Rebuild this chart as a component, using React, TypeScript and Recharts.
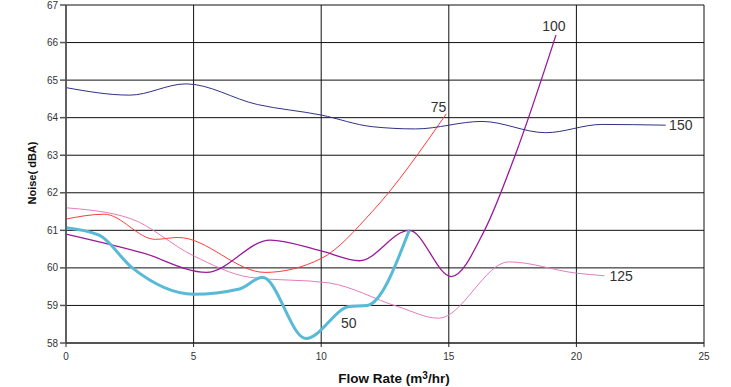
import React from "react";
import {
  LineChart,
  Line,
  XAxis,
  YAxis,
  CartesianGrid,
  ReferenceDot,
} from "recharts";

// flow rate (m3/hr) and noise (dBA)
const x50 = [0, 1.3, 2.6, 5, 6.8, 7.7, 9.4, 11.1, 11.8, 13.45];
const y50 = [61.07, 60.87, 60.0, 59.3, 59.44, 59.75, 58.12, 58.97, 59.0, 61.0];

const x75 = [0, 1.5, 3.5, 4.4, 7.8, 10, 12, 14.9];
const y75 = [61.3, 61.43, 60.76, 60.81, 59.88, 60.25, 61.5, 64.1];

const x100 = [0, 3, 5.5, 8, 10, 11.5, 13.45, 15.1, 16.4, 17.6, 19.2];
const y100 = [60.9, 60.4, 59.88, 60.74, 60.45, 60.19, 61.0, 59.77, 61.0, 63.0, 66.2];

const x125 = [0, 2.5, 5, 7.2, 10.3, 13, 14.6, 17.35, 20, 21.1];
const y125 = [61.6, 61.32, 60.32, 59.75, 59.6, 58.97, 58.66, 60.16, 59.86, 59.79];

const x150 = [0, 2.5, 4.7, 7.5, 10, 12, 13.7, 16.3, 18.8, 21, 23.5];
const y150 = [64.8, 64.6, 64.9, 64.35, 64.07, 63.76, 63.7, 63.9, 63.6, 63.82, 63.8];

const xTicks = [0, 5, 10, 15, 20, 25];
const yTicks = [58, 59, 60, 61, 62, 63, 64, 65, 66, 67];

// curve name labels, placed at data coordinates
const seriesLabels = [
  { text: "50", x: 11.08, y: 58.52 },
  { text: "75", x: 14.6, y: 64.28 },
  { text: "100", x: 19.12, y: 66.44 },
  { text: "125", x: 21.75, y: 59.78 },
  { text: "150", x: 24.09, y: 63.8 },
];

const pts = (xs: number[], ys: number[]) =>
  xs.map((x, i) => ({ x, y: ys[i] }));

const font = "'Liberation Sans', Arial, sans-serif";

export default function App() {
  const series = [
    { key: "125", data: pts(x125, y125), color: "#E27DBE", width: 1 },
    { key: "75", data: pts(x75, y75), color: "#FF3B3B", width: 1 },
    { key: "100", data: pts(x100, y100), color: "#9A1A99", width: 1.3 },
    { key: "150", data: pts(x150, y150), color: "#2E3382", width: 1 },
    { key: "50", data: pts(x50, y50), color: "#58BAD6", width: 3 },
  ];

  return (
    <div style={{ position: "absolute", left: 0, top: 0, fontFamily: font }}>
      <LineChart
        width={731}
        height={387}
        margin={{ top: 5, right: 27, left: 0, bottom: 0 }}
      >
        <CartesianGrid stroke='#111' strokeWidth={1} />
        <XAxis
          type='number'
          dataKey='x'
          domain={[0, 25]}
          ticks={xTicks}
          height={44}
          tickSize={4}
          tickMargin={6}
          stroke='#222'
          tick={{ fontSize: 10, fill: "#333", fontFamily: font }}
          allowDuplicatedCategory={false}
          label={{
            content: () => (
              <text
                x={394}
                y={383}
                textAnchor='middle'
                fontSize={13.5}
                fontWeight='bold'
                fill='#111'
                fontFamily={font}
              >
                Flow Rate (m
                <tspan dy={-4} fontSize={10}>
                  3
                </tspan>
                <tspan dy={4}>/hr)</tspan>
              </text>
            ),
          }}
        />
        <YAxis
          type='number'
          domain={[58, 67]}
          ticks={yTicks}
          width={66}
          tickSize={6}
          tickMargin={2}
          stroke='#555'
          strokeWidth={1.5}
          tick={{ fontSize: 10, fill: "#333", fontFamily: font }}
          label={{
            content: () => (
              <text
                x={36}
                y={173}
                transform='rotate(-90 36 173)'
                textAnchor='middle'
                fontSize={11}
                fontWeight='bold'
                fill='#111'
                fontFamily={font}
              >
                Noise( dBA)
              </text>
            ),
          }}
        />
        {series.map((s) => (
          <Line
            key={s.key}
            data={s.data}
            dataKey='y'
            type='monotone'
            stroke={s.color}
            strokeWidth={s.width}
            dot={false}
            activeDot={false}
            isAnimationActive={false}
          />
        ))}
        {seriesLabels.map((l) => (
          <ReferenceDot
            key={l.text}
            x={l.x}
            y={l.y}
            r={0}
            fill='none'
            stroke='none'
            ifOverflow='visible'
            label={{
              value: l.text,
              position: "center",
              fontSize: 14,
              fill: "#333",
              fontFamily: font,
            }}
          />
        ))}
      </LineChart>
    </div>
  );
}
